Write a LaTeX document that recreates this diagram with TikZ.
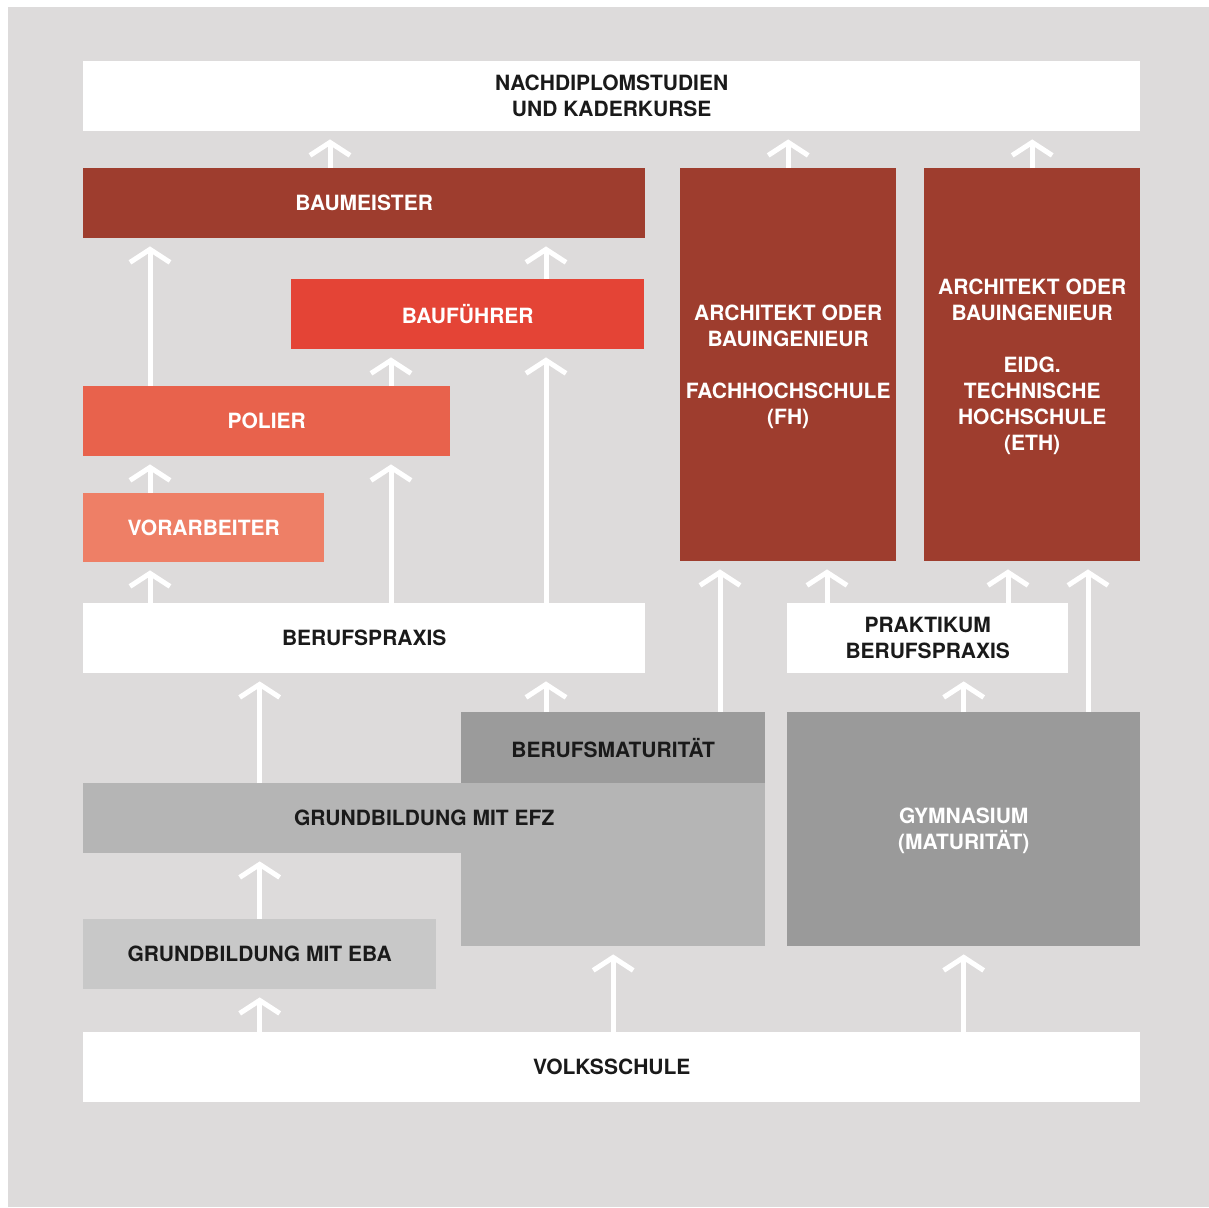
\documentclass[tikz,border=0pt]{standalone}
\usepackage{fontspec}
\setmainfont{TeX Gyre Heros}
\usetikzlibrary{arrows.meta}

\definecolor{bggray}{HTML}{DDDBDB}
\definecolor{darkred}{HTML}{9E3D2E}
\definecolor{redmid}{HTML}{E44436}
\definecolor{redlight}{HTML}{E8624C}
\definecolor{salmon}{HTML}{EE7F66}
\definecolor{bmgray}{HTML}{9B9B9B}
\definecolor{efzgray}{HTML}{B5B5B5}
\definecolor{gymgray}{HTML}{9A9A9A}
\definecolor{ebagray}{HTML}{C8C8C8}
\definecolor{txtdark}{HTML}{1A1A1A}

\begin{document}
\begin{tikzpicture}[x=1pt, y=-1pt,
    box/.style={rectangle, anchor=north west, inner sep=0pt, align=center, text=txtdark, text depth=0pt,
        font=\fontsize{21}{26}\selectfont\bfseries},
    uparrow/.style={draw=white, line width=5pt, -{Straight Barb[length=13pt, width=40pt]}, shorten >=8pt}]
    \useasboundingbox (0,0) rectangle (1209,1207);
    \fill[bggray] (8,7) rectangle (1209,1207);

    \node[box, fill=white, minimum width=1057pt, minimum height=70pt] (nds) at (83,61) {NACHDIPLOMSTUDIEN\\UND KADERKURSE};
    \node[box, fill=darkred, text=white, minimum width=562pt, minimum height=70pt] (baumeister) at (83,168) {BAUMEISTER};
    \node[box, fill=redmid, text=white, minimum width=353pt, minimum height=70pt] (baufuehrer) at (291,279) {BAUFÜHRER};
    \node[box, fill=redlight, text=white, minimum width=367pt, minimum height=70pt] (polier) at (83,386) {POLIER};
    \node[box, fill=salmon, text=white, minimum width=241pt, minimum height=69pt] (vorarbeiter) at (83,493) {VORARBEITER};
    \node[box, fill=white, minimum width=562pt, minimum height=70pt] (praxis) at (83,603) {BERUFSPRAXIS};
    \node[box, fill=darkred, text=white, minimum width=216pt, minimum height=393pt] (fh) at (680,168)
        {ARCHITEKT ODER\\BAUINGENIEUR\\[26pt]FACHHOCHSCHULE\\(FH)};
    \node[box, fill=darkred, text=white, minimum width=216pt, minimum height=393pt] (eth) at (924,168)
        {ARCHITEKT ODER\\BAUINGENIEUR\\[26pt]EIDG.\\TECHNISCHE\\HOCHSCHULE\\(ETH)};
    \node[box, fill=white, minimum width=281pt, minimum height=70pt] (praktikum) at (787,603) {PRAKTIKUM\\BERUFSPRAXIS};
    \node[box, fill=efzgray, minimum width=304pt, minimum height=234pt] (efzblock) at (461,712) {};
    \node[box, fill=bmgray, minimum width=304pt, minimum height=71pt] (bm) at (461,712) {BERUFSMATURITÄT};
    \node[box, fill=efzgray, minimum width=682pt, minimum height=70pt] (efz) at (83,783) {GRUNDBILDUNG MIT EFZ};
    \node[box, fill=gymgray, text=white, minimum width=353pt, minimum height=234pt] (gym) at (787,712) {GYMNASIUM\\(MATURITÄT)};
    \node[box, fill=ebagray, minimum width=353pt, minimum height=70pt] (eba) at (83,919) {GRUNDBILDUNG MIT EBA};
    \node[box, fill=white, minimum width=1057pt, minimum height=70pt] (volk) at (83,1032) {VOLKSSCHULE};

    \foreach \n/\x in {left/150, bm/330, pol/391, bf/546, fhl/720, fhr/827, ethl/1008, ethr/1088}
        \coordinate (lane\n) at (\x,0);

    \draw[uparrow] (baumeister.north -| lanebm) -- (nds.south -| lanebm);
    \draw[uparrow] (fh.north) -- (nds.south -| fh.north);
    \draw[uparrow] (eth.north) -- (nds.south -| eth.north);
    \draw[uparrow] (polier.north -| laneleft) -- (baumeister.south -| laneleft);
    \draw[uparrow] (baufuehrer.north -| lanebf) -- (baumeister.south -| lanebf);
    \draw[uparrow] (polier.north -| lanepol) -- (baufuehrer.south -| lanepol);
    \draw[uparrow] (praxis.north -| lanebf) -- (baufuehrer.south -| lanebf);
    \draw[uparrow] (vorarbeiter.north -| laneleft) -- (polier.south -| laneleft);
    \draw[uparrow] (praxis.north -| lanepol) -- (polier.south -| lanepol);
    \draw[uparrow] (praxis.north -| laneleft) -- (vorarbeiter.south -| laneleft);
    \draw[uparrow] (efz.north -| eba.north) -- (praxis.south -| eba.north);
    \draw[uparrow] (bm.north -| lanebf) -- (praxis.south -| lanebf);
    \draw[uparrow] (bm.north -| lanefhl) -- (fh.south -| lanefhl);
    \draw[uparrow] (praktikum.north -| lanefhr) -- (fh.south -| lanefhr);
    \draw[uparrow] (praktikum.north -| laneethl) -- (eth.south -| laneethl);
    \draw[uparrow] (gym.north -| laneethr) -- (eth.south -| laneethr);
    \draw[uparrow] (gym.north) -- (praktikum.south -| gym.north);
    \draw[uparrow] (eba.north) -- (efz.south -| eba.north);
    \draw[uparrow] (volk.north -| eba.north) -- (eba.south);
    \draw[uparrow] (volk.north -| bm.north) -- (efzblock.south);
    \draw[uparrow] (volk.north -| gym.north) -- (gym.south);
\end{tikzpicture}
\end{document}
